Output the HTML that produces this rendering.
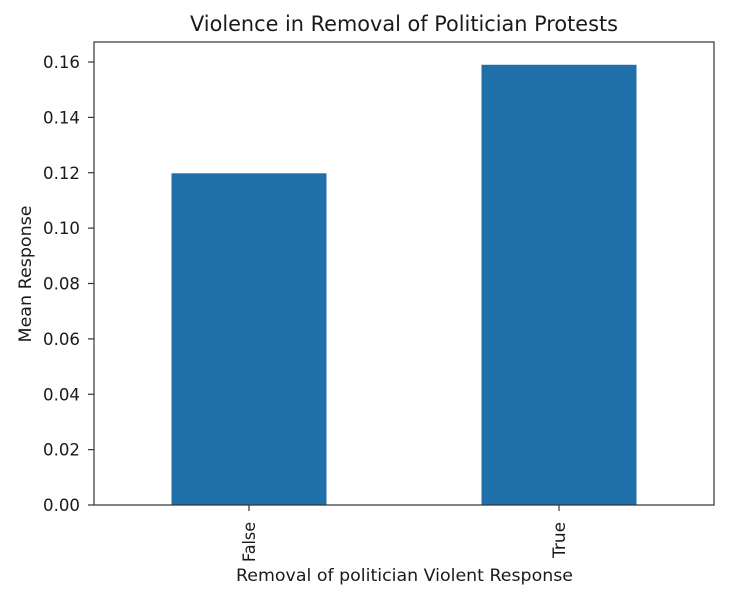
<!DOCTYPE html>
<html><head><meta charset="utf-8"><style>
body{margin:0;background:#fff;}
svg text{font-family:"DejaVu Sans","Liberation Sans",sans-serif;fill:#1a1a1a;}
</style></head><body>
<svg id="chart" width="740" height="603"></svg>
<script>
const categories=["False","True"];
const values=[0.1198,0.1590];
const yTicks=[0,0.02,0.04,0.06,0.08,0.10,0.12,0.14,0.16];
const tickLabels=["0.00","0.02","0.04","0.06","0.08","0.10","0.12","0.14","0.16"];
const catLabelLen=[40,36];
const L=94,R=714,T=42,B=505;
const yMax=0.16, y160=62;
function y(v){return B-(B-y160)*v/yMax;}
function xc(i){return L+(R-L)*(i+0.5)/categories.length;}
const bw=(R-L)/categories.length*0.5;
const svg=document.getElementById('chart');
const NS="http://www.w3.org/2000/svg";
function mk(t,a,txt){const e=document.createElementNS(NS,t);for(const k in a)e.setAttribute(k,a[k]);if(txt!==undefined)e.textContent=txt;svg.appendChild(e);return e;}
categories.forEach((c,i)=>{
 const r=mk('rect',{x:xc(i)-bw/2,y:y(values[i]),width:bw,height:B-y(values[i]),fill:'#1f6fa9'});
 
 
 mk('line',{x1:xc(i),x2:xc(i),y1:B,y2:B+6,stroke:'#333','stroke-width':1.2});
 const t=mk('text',{x:0,y:0,'font-size':16.5,'text-anchor':'start',textLength:catLabelLen[i],lengthAdjust:'spacingAndGlyphs',transform:`translate(${xc(i)+6},${B+17+catLabelLen[i]}) rotate(-90)`},c);
 
 
});
yTicks.forEach((v,i)=>{
 mk('line',{x1:L-6,x2:L,y1:y(v),y2:y(v),stroke:'#333','stroke-width':1.2});
 const t=mk('text',{x:L-51,y:y(v)+6,'font-size':16.5,textLength:37,lengthAdjust:'spacingAndGlyphs'},tickLabels[i]);
 
 
});
const f=mk('rect',{x:L,y:T,width:R-L,height:B-T,fill:'none',stroke:'#333','stroke-width':1.2});


const ti=mk('text',{x:190,y:31,'font-size':21,textLength:428,lengthAdjust:'spacingAndGlyphs'},'Violence in Removal of Politician Protests');


const xt=mk('text',{x:236,y:581,'font-size':16.5,textLength:337,lengthAdjust:'spacingAndGlyphs'},'Removal of politician Violent Response');


const yt=mk('text',{x:0,y:0,'font-size':16.5,'text-anchor':'middle',textLength:137,lengthAdjust:'spacingAndGlyphs',transform:`translate(31,274) rotate(-90)`},'Mean Response');


</script>
</body></html>
